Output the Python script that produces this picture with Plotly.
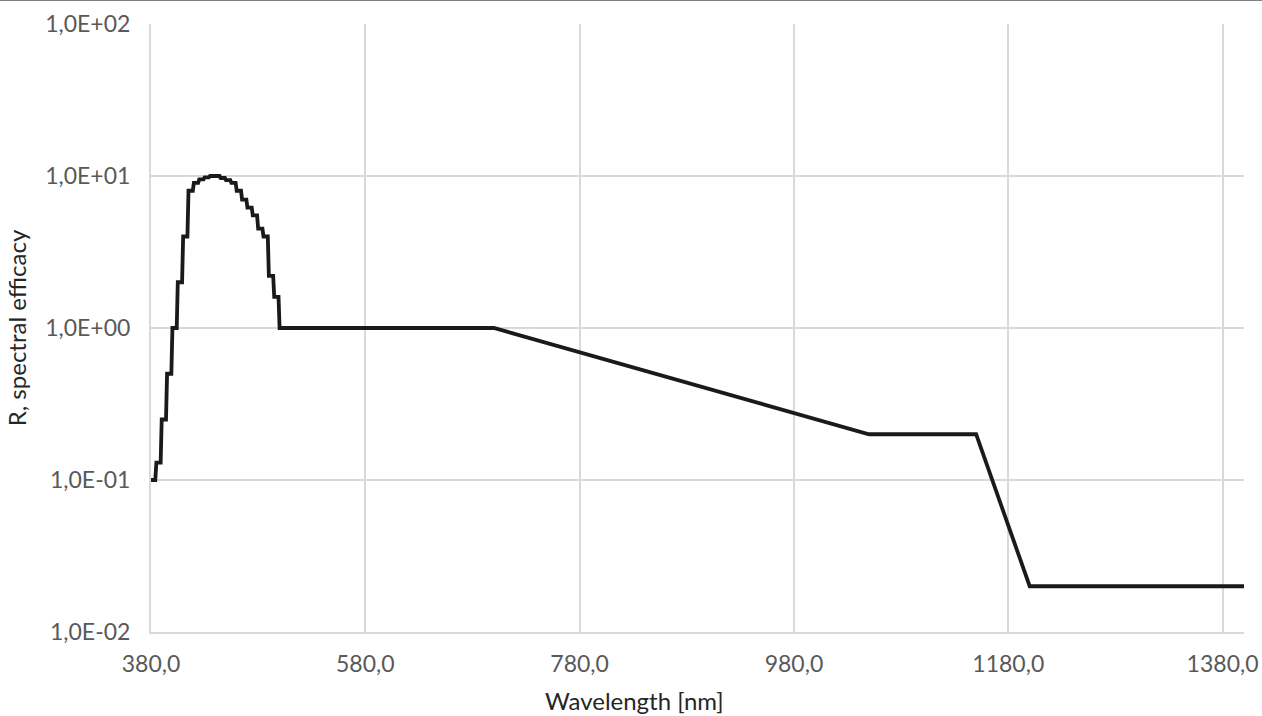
import plotly.graph_objects as go

# Retinal thermal hazard weighting R(lambda), tabulated in 5 nm bands (380-495 nm)
band_start_nm = [380, 385, 390, 395, 400, 405, 410, 415, 420, 425, 430, 435,
                 440, 445, 450, 455, 460, 465, 470, 475, 480, 485, 490, 495]
band_value = [0.1, 0.13, 0.25, 0.5, 1.0, 2.0, 4.0, 8.0, 9.0, 9.5, 9.8, 10.0,
              10.0, 9.7, 9.4, 9.0, 8.0, 7.0, 6.2, 5.5, 4.5, 4.0, 2.2, 1.6]

# Breakpoints of the remaining range (500-1400 nm)
tail_nm = [500, 700, 1050, 1150, 1200, 1400]
tail_value = [1.0, 1.0, 0.2, 0.2, 0.02, 0.02]

x_tickvals = [380, 580, 780, 980, 1180, 1380]
x_ticktext = ["380,0", "580,0", "780,0", "980,0", "1180,0", "1380,0"]
y_tickvals = [0.01, 0.1, 1, 10, 100]
y_ticktext = ["1,0E-02", "1,0E-01", "1,0E+00", "1,0E+01", "1,0E+02"]

# Each band holds its value from its first nm to the 4th nm, then steps to the next band
xs, ys = [], []
for start, val in zip(band_start_nm, band_value):
    xs += [start, start + 4]
    ys += [val, val]
xs += tail_nm
ys += tail_value

FONT = "Lato"
GRID = "#d9d9d9"
TICK_COLOR = "#595959"
TITLE_COLOR = "#262626"

fig = go.Figure()
fig.add_trace(go.Scatter(
    x=xs, y=ys, mode="lines",
    line=dict(color="#1a1a1a", width=3.8),
    showlegend=False, hoverinfo="x+y",
))

fig.update_layout(
    width=1262, height=716,
    margin=dict(l=151, r=18, t=24, b=84),
    paper_bgcolor="white", plot_bgcolor="white",
    font=dict(family=FONT, color=TICK_COLOR, size=23),
    xaxis=dict(
        range=[380, 1400], tickvals=x_tickvals, ticktext=x_ticktext,
        showgrid=True, gridcolor=GRID, gridwidth=2,
        showline=True, linecolor=GRID, linewidth=2,
        ticks="", ticklabelstandoff=10, zeroline=False, automargin=False,
        tickfont=dict(family=FONT, size=23, color=TICK_COLOR),
    ),
    yaxis=dict(
        type="log", range=[-2, 2], tickvals=y_tickvals, ticktext=y_ticktext,
        showgrid=True, gridcolor=GRID, gridwidth=2,
        showline=True, linecolor=GRID, linewidth=2,
        ticks="", ticklabelstandoff=14, zeroline=False, automargin=False,
        tickfont=dict(family=FONT, size=23, color=TICK_COLOR),
        title=dict(text="R, spectral efficacy", standoff=12,
                   font=dict(family=FONT, size=24, color=TITLE_COLOR)),
    ),
    annotations=[dict(
        text="Wavelength [nm]", xref="paper", yref="paper",
        x=(634 - 151) / 1093, y=-(700 - 632) / 608,
        xanchor="center", yanchor="middle", showarrow=False,
        font=dict(family=FONT, size=24, color=TITLE_COLOR),
    )],
    shapes=[dict(
        type="line", xref="paper", yref="paper",
        x0=-0.2, x1=1.1, y0=1 + 24 / 608, y1=1 + 24 / 608,
        line=dict(color="#808080", width=2),
    )],
)

fig.write_html("out.html")
